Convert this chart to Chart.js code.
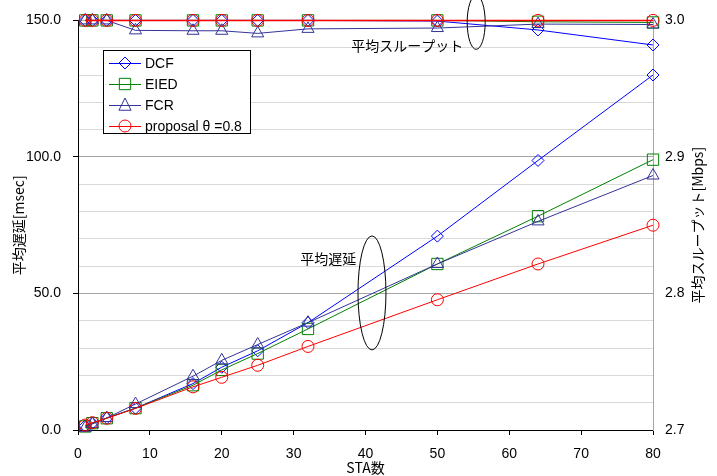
<!doctype html>
<html>
<head>
<meta charset="utf-8" />
<title>平均遅延 / 平均スループット</title>
<script src="https://cdn.jsdelivr.net/npm/chart.js@4/dist/chart.umd.min.js"></script>
<style>
  html, body { margin: 0; padding: 0; background: #fff; }
  #wrap { width: 717px; height: 476px; }
</style>
</head>
<body>
<div id="wrap"><canvas id="chart"></canvas></div>
<script>
// STA count on the x axis
const staCounts = [1, 2, 4, 8, 16, 20, 25, 32, 50, 64, 80];

// average delay [msec] (left axis)
const delayDCF      = [1.5, 2.5, 4.4, 8.0, 17.0, 23.0, 29.0, 39.3, 71.0, 98.7, 130.0];
const delayEIED     = [1.3, 2.5, 4.3, 8.0, 16.4, 22.0, 28.0, 37.0, 60.8, 78.3, 99.0];
const delayFCR      = [0.8, 2.2, 4.4, 9.5, 19.7, 25.5, 31.3, 39.3, 60.8, 76.4, 93.2];
const delayProposal = [1.8, 2.7, 4.3, 7.9, 15.8, 19.3, 23.7, 30.6, 47.7, 60.8, 75.0];

// average throughput [Mbps] (right axis)
const tputDCF      = [3.0, 3.0, 3.0, 3.0, 3.0, 3.0, 3.0, 3.0, 2.9995, 2.993, 2.982];
const tputEIED     = [3.0, 3.0, 3.0, 3.0, 3.0, 3.0, 3.0, 3.0, 3.0, 2.999, 2.9985];
const tputFCR      = [3.0, 3.0, 3.0, 2.9927, 2.9924, 2.9924, 2.9905, 2.9938, 2.9944, 2.9973, 2.997];
const tputProposal = [3.0, 3.0, 3.0, 3.0, 3.0, 3.0, 3.0, 3.0, 3.0, 3.0, 3.0];

const seriesNames = ["DCF", "EIED", "FCR", "proposal θ =0.8"];
const seriesColors = ["#0000ff", "#008000", "#333399", "#ff0000"];
const seriesMarkers = ["rectRot", "rect", "triangle", "circle"];
const markerRadius = [6, 8, 7, 6];

const FONT = '"Liberation Sans", "Noto Sans CJK JP", sans-serif';
const JP_FONT = '"Noto Sans CJK JP", "Liberation Sans", sans-serif';

function pts(ys) {
  return staCounts.map((x, i) => ({ x: x, y: ys[i] }));
}

function makeSet(i, ys, axis, order, width) {
  return {
    label: seriesNames[i],
    data: pts(ys),
    yAxisID: axis,
    borderColor: seriesColors[i],
    borderWidth: width || 1,
    pointStyle: seriesMarkers[i],
    pointRadius: markerRadius[i],
    pointBorderColor: seriesColors[i],
    pointBackgroundColor: "rgba(255,255,255,0)",
    pointBorderWidth: 1,
    tension: 0,
    clip: false,
    order: order,
  };
}

function marker(ctx, style, r, x, y, color) {
  ctx.save();
  ctx.strokeStyle = color;
  ctx.lineWidth = 1;
  ctx.beginPath();
  if (style === "circle") {
    ctx.arc(x, y, r, 0, Math.PI * 2);
  } else if (style === "rect") {
    const s = r * Math.SQRT1_2;
    ctx.rect(x - s, y - s, 2 * s, 2 * s);
  } else if (style === "rectRot") {
    ctx.moveTo(x - r, y);
    ctx.lineTo(x, y - r);
    ctx.lineTo(x + r, y);
    ctx.lineTo(x, y + r);
    ctx.closePath();
  } else if (style === "triangle") {
    ctx.moveTo(x - r * 0.866, y + r * 0.75);
    ctx.lineTo(x, y - r);
    ctx.lineTo(x + r * 0.866, y + r * 0.75);
    ctx.closePath();
  }
  ctx.stroke();
  ctx.restore();
}

// legend box, ellipses, annotation labels and right axis title
const extras = {
  id: "extras",
  afterDatasetsDraw(chart) {
    const ctx = chart.ctx;
    const xs = chart.scales.x, ys = chart.scales.y;

    // legend
    const lx = 103, ly = 50, lw = 147, lh = 83;
    ctx.save();
    ctx.fillStyle = "#fff";
    ctx.fillRect(lx, ly, lw, lh);
    ctx.strokeStyle = "#000";
    ctx.lineWidth = 1;
    ctx.strokeRect(lx + 0.5, ly + 0.5, lw, lh);
    ctx.font = "14px " + FONT;
    ctx.textBaseline = "middle";
    ctx.fillStyle = "#000";
    for (let i = 0; i < seriesNames.length; i++) {
      const ry = ly + 13 + i * 21;
      ctx.strokeStyle = seriesColors[i];
      ctx.beginPath();
      ctx.moveTo(lx + 6, ry + 0.5);
      ctx.lineTo(lx + 38, ry + 0.5);
      ctx.stroke();
      marker(ctx, seriesMarkers[i], markerRadius[i], lx + 22, ry, seriesColors[i]);
      ctx.fillText(seriesNames[i], lx + 42, ry + 1);
    }
    ctx.restore();

    // ellipses
    ctx.save();
    ctx.strokeStyle = "#000";
    ctx.lineWidth = 1;
    ctx.beginPath();
    ctx.ellipse(xs.getPixelForValue(40.9), ys.getPixelForValue(50.2), 14, 57, 0, 0, Math.PI * 2);
    ctx.stroke();
    ctx.beginPath();
    ctx.ellipse(xs.getPixelForValue(55.4), ys.getPixelForValue(149.3), 9, 27, 0, 0, Math.PI * 2);
    ctx.stroke();

    ctx.font = "14px " + JP_FONT;
    ctx.fillStyle = "#000";
    ctx.textAlign = "right";
    ctx.textBaseline = "middle";
    ctx.fillText("平均遅延", xs.getPixelForValue(38.7), ys.getPixelForValue(62.6));
    ctx.fillText("平均スループット", xs.getPixelForValue(53.6), ys.getPixelForValue(140.9));

    // right axis title, reading bottom to top
    ctx.translate(698, (chart.chartArea.top + chart.chartArea.bottom) / 2);
    ctx.rotate(-Math.PI / 2);
    ctx.textAlign = "center";
    ctx.fillText("平均スループット[Mbps]", 0, 0);
    ctx.restore();
  },
};

Chart.defaults.font.family = FONT;
Chart.defaults.font.size = 14;
Chart.defaults.color = "#000";

new Chart(document.getElementById("chart"), {
  type: "line",
  data: {
    datasets: [
      makeSet(0, delayDCF, "y", 4),
      makeSet(1, delayEIED, "y", 3),
      makeSet(2, delayFCR, "y", 2),
      makeSet(3, delayProposal, "y", 1),
      makeSet(0, tputDCF, "y2", 4),
      makeSet(1, tputEIED, "y2", 3),
      makeSet(2, tputFCR, "y2", 2),
      makeSet(3, tputProposal, "y2", 0, 1.5),
    ],
  },
  options: {
    responsive: true,
    maintainAspectRatio: false,
    animation: false,
    layout: { padding: { top: 18, left: 0, right: 0, bottom: 0 } },
    plugins: { legend: { display: false }, tooltip: { enabled: false } },
    scales: {
      x: {
        type: "linear",
        min: 0,
        max: 80,
        ticks: { stepSize: 10, padding: 11, maxRotation: 0 },
        grid: { drawOnChartArea: false, tickLength: 5, tickColor: "#000" },
        border: { color: "#000", width: 1 },
        title: { display: true, text: "STA数", font: { family: JP_FONT, size: 14 }, padding: { top: 0, bottom: 0 } },
        afterFit(s) { s.height = 46; },
      },
      y: {
        position: "left",
        min: 0,
        max: 150,
        ticks: {
          stepSize: 10,
          autoSkip: false,
          padding: 12,
          callback: (v) => (v % 50 === 0 ? Number(v).toFixed(1) : ""),
        },
        grid: {
          color: (c) => (c.tick && c.tick.value % 50 === 0 ? "#a6a6a6" : "#d9d9d9"),
          tickColor: (c) => (c.tick && c.tick.value % 50 === 0 ? "#000" : "rgba(0,0,0,0)"),
          tickLength: 5,
        },
        border: { color: "#000", width: 1 },
        title: { display: true, text: "平均遅延[msec]", font: { family: JP_FONT, size: 14 }, padding: { top: 10, bottom: 0 } },
        afterFit(s) { s.width = 78; },
      },
      y2: {
        position: "right",
        min: 2.7,
        max: 3.0,
        ticks: { stepSize: 0.1, padding: 12, callback: (v) => Number(v).toFixed(1) },
        grid: { drawOnChartArea: false, drawTicks: false },
        border: { color: "#a6a6a6", width: 1 },
        afterFit(s) { s.width = 64; },
      },
    },
  },
  plugins: [extras],
});
</script>
</body>
</html>
